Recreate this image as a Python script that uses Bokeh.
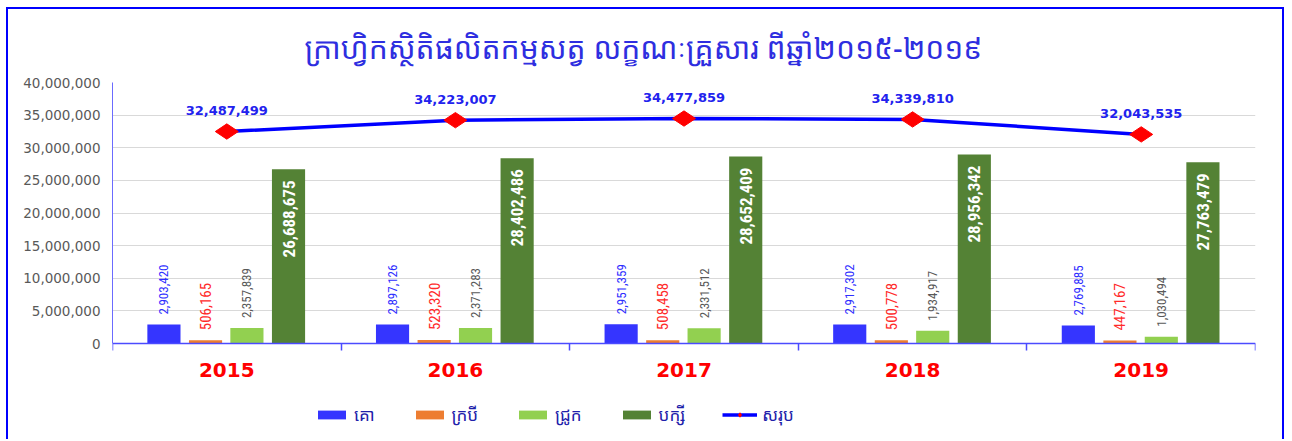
import numpy as np
from bokeh.plotting import figure
from bokeh.models import (ColumnDataSource, FixedTicker, NumeralTickFormatter, Legend, LegendItem,
                          Range1d)
from bokeh.core.properties import value
from bokeh.embed import file_html
from bokeh.resources import INLINE

# ---- data ----
years = ["2015", "2016", "2017", "2018", "2019"]
cattle = [2903420, 2897126, 2951359, 2917302, 2769885]
buffalo = [506165, 523320, 508458, 500778, 447167]
pigs = [2357839, 2371283, 2331512, 1934917, 1030494]
poultry = [26688675, 28402486, 28652409, 28956342, 27763479]
total = [32487499, 34223007, 34477859, 34339810, 32043535]

series_names = ["គោ", "ក្របី", "ជ្រូក", "បក្សី"]
total_name = "សរុប"
title_text = "ក្រាហ្វិកស្ថិតិផលិតកម្មសត្វ លក្ខណៈគ្រួសារ ពីឆ្នាំ២០១៥-២០១៩"
y_max = 40000000
y_ticks = list(range(0, y_max + 1, 5000000))

bar_colors = ["#3535FF", "#ED7D31", "#92D050", "#548235"]
label_colors = ["#2E2EFF", "#FF2A2A", "#595959", "#FFFFFF"]

n = len(years)
xc = np.arange(n) + 0.5
offsets = [-0.275, -0.093, 0.088, 0.27]
bw = 0.145

# layout (canvas pixels)
W, H = 1278, 432
frame_top, zero_px = 73, 334          # pixel rows of y_max and of 0
below_px = H - zero_px                 # room under the axis for year labels + legend
y_min = -y_max * below_px / (zero_px - frame_top)

p = figure(width=W, height=H, output_backend="svg", toolbar_location=None,
           x_range=Range1d(0, n), y_range=Range1d(y_min, y_max),
           min_border_left=104, min_border_right=31, min_border_top=frame_top,
           min_border_bottom=0)
p.styles = {"border-top": "2px solid #0000FF", "border-left": "2px solid #0000FF",
            "border-right": "2px solid #0000FF", "margin-left": "6px", "margin-top": "7px"}

p.title.text = title_text
p.title.align = "left"
p.title.text_font = "Noto Sans Khmer, Khmer OS, DejaVu Sans, sans-serif"
p.title.text_font_size = "30px"
p.title.text_font_style = "normal"
p.title.text_color = "#2E2EE0"
p.title.offset = 192
p.title.standoff = 30

p.outline_line_color = None
p.background_fill_color = "white"
p.border_fill_color = "white"

# grid
p.xgrid.grid_line_color = None
p.ygrid.grid_line_color = "#D9D9D9"
p.ygrid.ticker = FixedTicker(ticks=y_ticks)

# y axis
p.yaxis.ticker = FixedTicker(ticks=y_ticks)
p.yaxis.bounds = (0, y_max)
p.yaxis.formatter = NumeralTickFormatter(format="0,0")
p.yaxis.axis_line_color = "#6B6BFF"
p.yaxis.major_tick_line_color = None
p.yaxis.major_tick_out = 0
p.yaxis.minor_tick_line_color = None
p.yaxis.major_label_text_font = "DejaVu Sans"
p.yaxis.major_label_text_font_size = "13.5px"
p.yaxis.major_label_text_color = "#595959"
p.yaxis.major_label_standoff = 12

# x axis (sits at y = 0 inside the frame)
p.xaxis.fixed_location = 0
p.xaxis.ticker = FixedTicker(ticks=list(xc), minor_ticks=list(range(0, n + 1)))
p.xaxis.major_label_overrides = {float(x): y for x, y in zip(xc, years)}
p.xaxis.axis_line_color = "#4B4BFF"
p.xaxis.axis_line_width = 1.5
p.xaxis.major_tick_line_color = None
p.xaxis.major_tick_out = 0
p.xaxis.major_tick_in = 0
p.xaxis.minor_tick_line_color = "#4B4BFF"
p.xaxis.minor_tick_line_width = 1.5
p.xaxis.minor_tick_out = 7
p.xaxis.minor_tick_in = 0
p.xaxis.major_label_text_font = "DejaVu Sans"
p.xaxis.major_label_text_font_style = "bold"
p.xaxis.major_label_text_font_size = "20px"
p.xaxis.major_label_text_color = "#FF0000"
p.xaxis.major_label_standoff = 12

series = [cattle, buffalo, pigs, poultry]
renderers = []
narrow = value("Liberation Sans Narrow, Arial Narrow, Roboto Condensed, sans-serif")
for i, vals in enumerate(series):
    src = ColumnDataSource(dict(x=xc + offsets[i], top=vals,
                                lab=[f"{v:,}" for v in vals]))
    r = p.vbar(x="x", top="top", bottom=0, width=bw, source=src, fill_color=bar_colors[i],
               line_color=None)
    renderers.append(r)
    if i < 3:
        p.text(x="x", y="top", text="lab", source=src, angle=np.pi / 2,
               text_align="left", text_baseline="middle", y_offset=-10,
               text_font=narrow, text_font_size="15px" if i == 1 else "13px",
               text_color=label_colors[i])
    else:
        p.text(x="x", y="top", text="lab", source=src, angle=np.pi / 2,
               text_align="right", text_baseline="middle", y_offset=11,
               text_font=narrow, text_font_size="17px", text_font_style="bold",
               text_color=label_colors[i])

tsrc = ColumnDataSource(dict(x=xc, y=total, lab=[f"{v:,}" for v in total]))
lr = p.line(x="x", y="y", source=tsrc, line_color="#0000FF", line_width=3.5)
sr = p.scatter(x="x", y="y", source=tsrc, marker="diamond", angle=np.pi / 2, size=23,
               fill_color="#FF0000", line_color="#FF0000")
p.text(x="x", y="y", text="lab", source=tsrc, text_align="center",
       text_baseline="alphabetic", y_offset=-21, text_font=value("DejaVu Sans"),
       text_font_style="bold", text_font_size="13px", text_color="#2222EE")

items = [LegendItem(label=series_names[i], renderers=[renderers[i]]) for i in range(4)]
items.append(LegendItem(label=total_name, renderers=[lr, sr]))
legend = Legend(items=items, orientation="horizontal", location=(202, 15),
                glyph_width=35, glyph_height=11, label_standoff=5, spacing=37,
                label_text_font="Noto Sans Khmer, Khmer OS, DejaVu Sans, sans-serif",
                label_text_font_size="17px", label_text_color="#2020AA",
                border_line_color=None, background_fill_alpha=0, padding=4, margin=0)
p.add_layout(legend)

open("out.html", "w").write(file_html(p, INLINE))
